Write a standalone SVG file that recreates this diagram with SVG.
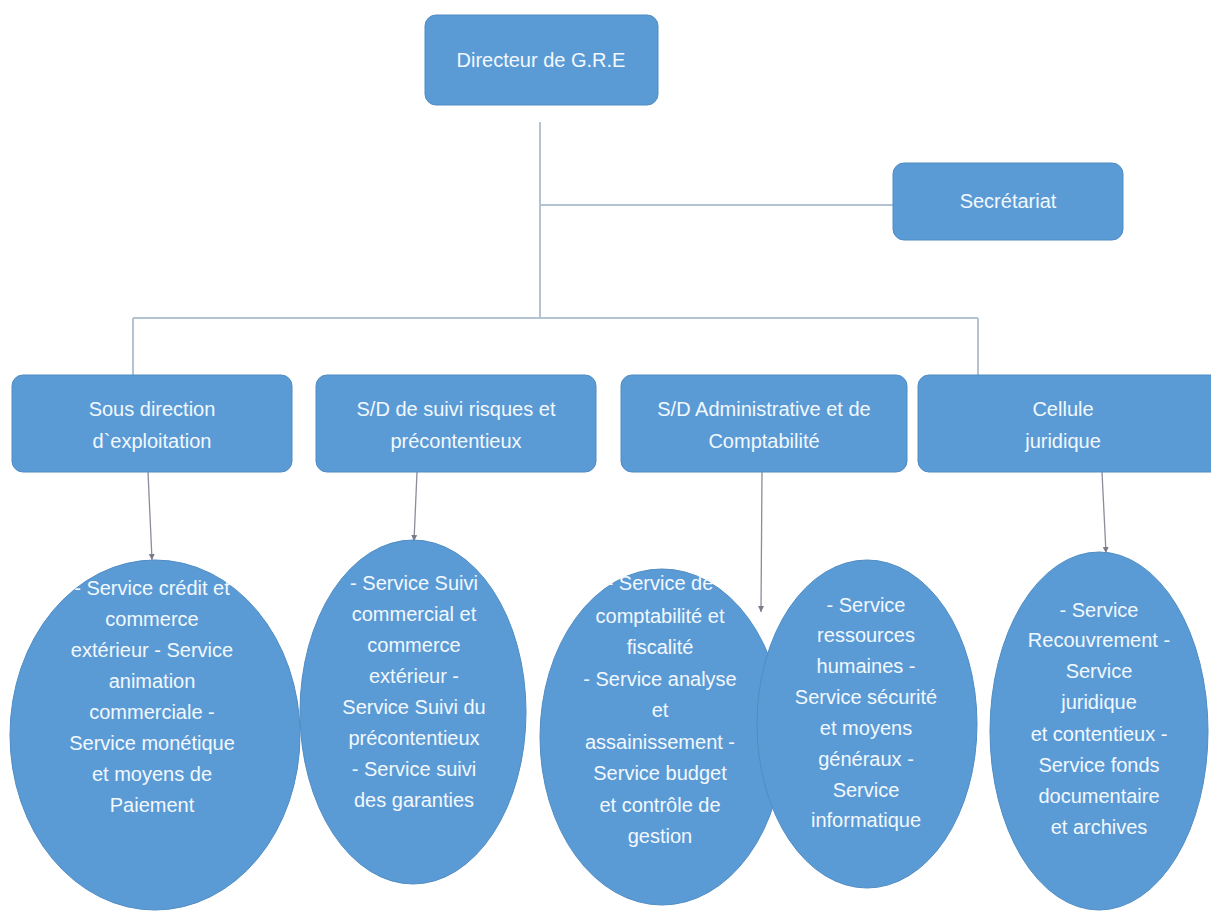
<svg xmlns="http://www.w3.org/2000/svg" width="1211" height="920" viewBox="0 0 1211 920">
<defs>
<style>
.box{fill:#5B9BD5;stroke:#4F8CC4;stroke-width:1}
.t{font-family:"Liberation Sans",Arial,sans-serif;font-size:20px;fill:#F2F8FF;text-anchor:middle}
.bus{stroke:#B4C3D2;stroke-width:2;fill:none}
.arr{stroke:#8C8C9C;stroke-width:1.3;fill:none;marker-end:url(#ah)}
</style>
<marker id="ah" markerWidth="8" markerHeight="8" refX="6" refY="4" orient="auto" markerUnits="userSpaceOnUse">
<path d="M0,1 L6,4 L0,7 Z" fill="#7A7A8A"/>
</marker>
</defs>
<rect width="1211" height="920" fill="#FFFFFF"/>
<g id="connectors">
<line class="bus" x1="540" y1="122" x2="540" y2="318"/>
<line class="bus" x1="540" y1="205" x2="893" y2="205"/>
<line class="bus" x1="133" y1="318" x2="978" y2="318"/>
<line class="bus" x1="133" y1="318" x2="133" y2="375"/>
<line class="bus" x1="978" y1="318" x2="978" y2="375"/>
<line class="arr" x1="148" y1="472" x2="152" y2="560"/>
<line class="arr" x1="417" y1="472" x2="414" y2="541"/>
<line class="arr" x1="762" y1="472" x2="761" y2="612"/>
<line class="arr" x1="1102" y1="472" x2="1106" y2="553"/>
</g>
<g id="directeur">
<rect class="box" x="425" y="15" width="233" height="90" rx="11"/>
<text class="t" x="541" y="67">Directeur de G.R.E</text>
</g>
<g id="secretariat">
<rect class="box" x="893" y="163" width="230" height="77" rx="11"/>
<text class="t" x="1008" y="208">Secrétariat</text>
</g>
<g id="sd-exploitation">
<rect class="box" x="12" y="375" width="280" height="97" rx="11"/>
<text class="t" x="152" y="416">Sous direction</text>
<text class="t" x="152" y="448">d`exploitation</text>
</g>
<g id="sd-risques">
<rect class="box" x="316" y="375" width="280" height="97" rx="11"/>
<text class="t" x="456" y="416">S/D de suivi risques et</text>
<text class="t" x="456" y="448">précontentieux</text>
</g>
<g id="sd-admin">
<rect class="box" x="621" y="375" width="286" height="97" rx="11"/>
<text class="t" x="764" y="416">S/D Administrative et de</text>
<text class="t" x="764" y="448">Comptabilité</text>
</g>
<g id="cellule-juridique">
<rect class="box" x="918" y="375" width="310" height="97" rx="11"/>
<text class="t" x="1063" y="416">Cellule</text>
<text class="t" x="1063" y="448">juridique</text>
</g>
<g id="services-exploitation">
<ellipse class="box" cx="155" cy="735" rx="145" ry="175"/>
<text class="t" x="152" y="595">- Service crédit et</text>
<text class="t" x="152" y="626">commerce</text>
<text class="t" x="152" y="657">extérieur - Service</text>
<text class="t" x="152" y="688">animation</text>
<text class="t" x="152" y="719">commerciale -</text>
<text class="t" x="152" y="750">Service monétique</text>
<text class="t" x="152" y="781">et moyens de</text>
<text class="t" x="152" y="812">Paiement</text>
</g>
<g id="services-risques">
<ellipse class="box" cx="413" cy="712" rx="113" ry="172"/>
<text class="t" x="414" y="590">- Service Suivi</text>
<text class="t" x="414" y="621">commercial et</text>
<text class="t" x="414" y="652">commerce</text>
<text class="t" x="414" y="683">extérieur -</text>
<text class="t" x="414" y="714">Service Suivi du</text>
<text class="t" x="414" y="745">précontentieux</text>
<text class="t" x="414" y="776">- Service suivi</text>
<text class="t" x="414" y="807">des garanties</text>
</g>
<g id="services-comptabilite">
<ellipse class="box" cx="662" cy="737" rx="122" ry="168"/>
<text class="t" x="660" y="590">- Service de</text>
<text class="t" x="660" y="623">comptabilité et</text>
<text class="t" x="660" y="654">fiscalité</text>
<text class="t" x="660" y="686">- Service analyse</text>
<text class="t" x="660" y="717">et</text>
<text class="t" x="660" y="749">assainissement -</text>
<text class="t" x="660" y="780">Service budget</text>
<text class="t" x="660" y="812">et contrôle de</text>
<text class="t" x="660" y="843">gestion</text>
</g>
<g id="services-administratifs">
<ellipse class="box" cx="867" cy="724" rx="110" ry="164"/>
<text class="t" x="866" y="612">- Service</text>
<text class="t" x="866" y="642">ressources</text>
<text class="t" x="866" y="673">humaines -</text>
<text class="t" x="866" y="704">Service sécurité</text>
<text class="t" x="866" y="735">et moyens</text>
<text class="t" x="866" y="766">généraux -</text>
<text class="t" x="866" y="797">Service</text>
<text class="t" x="866" y="827">informatique</text>
</g>
<g id="services-juridiques">
<ellipse class="box" cx="1099" cy="731" rx="109" ry="179"/>
<text class="t" x="1099" y="617">- Service</text>
<text class="t" x="1099" y="647">Recouvrement -</text>
<text class="t" x="1099" y="678">Service</text>
<text class="t" x="1099" y="709">juridique</text>
<text class="t" x="1099" y="741">et contentieux -</text>
<text class="t" x="1099" y="772">Service fonds</text>
<text class="t" x="1099" y="803">documentaire</text>
<text class="t" x="1099" y="834">et archives</text>
</g>
</svg>
